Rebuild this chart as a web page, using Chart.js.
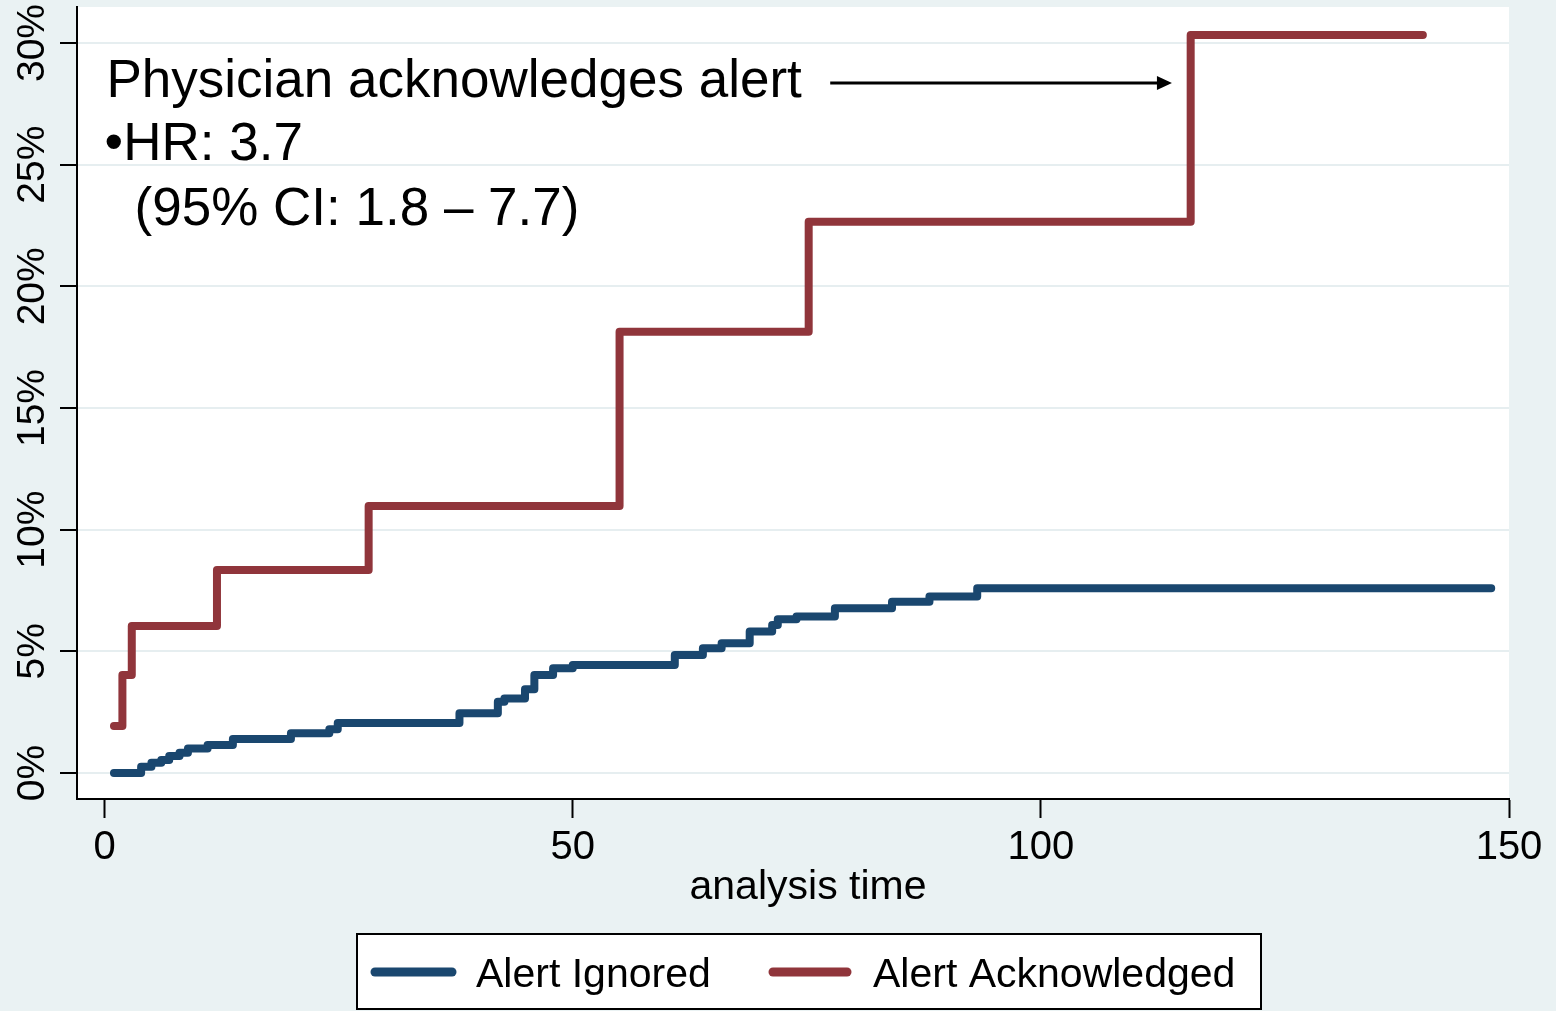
<!DOCTYPE html>
<html>
<head>
<meta charset="utf-8">
<script src="https://cdn.jsdelivr.net/npm/chart.js@4.4.1/dist/chart.umd.min.js"></script>
<style>
  html, body { margin: 0; padding: 0; background: #EAF2F3; }
  canvas { display: block; }
</style>
</head>
<body>
<canvas id="km-chart" width="1556" height="1011"></canvas>
<script>
// ============================================
// DATA (cumulative failure, percent)
// ============================================
const seriesLabels = ['Alert Ignored', 'Alert Acknowledged'];

const ignoredTimes = [1, 3.9, 5.0, 6.05, 6.9, 8.0, 8.9, 11.0, 13.7, 19.9, 24.0, 24.9,
  37.9, 42.0, 42.7, 44.9, 45.9, 47.9, 50.0,
  60.9, 63.9, 65.9, 68.9, 71.3, 71.9, 73.9, 78.0, 84.1, 88.1, 93.2, 148.1];
const ignoredPct = [0, 0.26, 0.42, 0.53, 0.70, 0.83, 1.01, 1.15, 1.40, 1.63, 1.80, 2.05,
  2.45, 2.93, 3.06, 3.44, 4.03, 4.30, 4.44,
  4.85, 5.13, 5.33, 5.81, 6.08, 6.32, 6.43, 6.77, 7.04, 7.25, 7.59, 7.59];

const ackTimes = [1, 1.9, 2.9, 12.0, 28.2, 55.0, 75.2, 116.0, 140.8];
const ackPct = [1.93, 4.03, 6.04, 8.34, 10.97, 18.13, 22.65, 30.33, 30.33];

const xTicks = [0, 50, 100, 150];
const yTicks = [0, 5, 10, 15, 20, 25, 30];

const xTitle = 'analysis time';
const noteLines = ['Physician acknowledges alert', '\u2022HR: 3.7', '(95% CI: 1.8 \u2013 7.7)'];

// ============================================
// HELPERS
// ============================================
const FONT = '"Liberation Sans", Arial, sans-serif';
Chart.defaults.font.family = FONT;
Chart.defaults.color = '#000';

function toPoints(xs, ys) {
  return xs.map((x, i) => ({ x: x, y: ys[i] }));
}

// backgrounds: outer stata-ish blue, white plot region
const backgroundPlugin = {
  id: 'bg',
  beforeDraw(chart) {
    const { ctx, chartArea: a } = chart;
    ctx.save();
    ctx.fillStyle = '#EAF2F3';
    ctx.fillRect(0, 0, chart.width, chart.height);
    ctx.fillStyle = '#FFFFFF';
    ctx.fillRect(a.left, a.top, a.right - a.left, a.bottom - a.top);
    ctx.restore();
  }
};

// rotated y tick labels, axis title, annotation, legend box
const extrasPlugin = {
  id: 'extras',
  afterDraw(chart) {
    const { ctx } = chart;
    const xs = chart.scales.x;
    const ys = chart.scales.y;

    ctx.save();
    ctx.fillStyle = '#000';

    // y tick labels, vertical
    ctx.font = '39px ' + FONT;
    ctx.textAlign = 'center';
    ctx.textBaseline = 'middle';
    ys.ticks.forEach(t => {
      const py = ys.getPixelForValue(t.value);
      ctx.save();
      ctx.translate(33, py);
      ctx.rotate(-Math.PI / 2);
      ctx.fillText(t.value + '%', 0, 0);
      ctx.restore();
    });

    // x axis title
    ctx.font = '41px ' + FONT;
    ctx.fillText(xTitle, 808, 888);

    // annotation text
    ctx.font = '53px ' + FONT;
    ctx.textAlign = 'left';
    ctx.textBaseline = 'alphabetic';
    ctx.fillText(noteLines[0], xs.getPixelForValue(0.2), ys.getPixelForValue(27.78));
    ctx.fillText(noteLines[1], xs.getPixelForValue(0.0), ys.getPixelForValue(25.2));
    ctx.fillText(noteLines[2], xs.getPixelForValue(3.2), ys.getPixelForValue(22.52));

    // arrow
    const ax0 = xs.getPixelForValue(77.5);
    const ax1 = xs.getPixelForValue(114.0);
    const ay = ys.getPixelForValue(28.36);
    ctx.strokeStyle = '#000';
    ctx.lineWidth = 3;
    ctx.beginPath();
    ctx.moveTo(ax0, ay);
    ctx.lineTo(ax1 - 10, ay);
    ctx.stroke();
    ctx.beginPath();
    ctx.moveTo(ax1, ay);
    ctx.lineTo(ax1 - 15, ay - 7);
    ctx.lineTo(ax1 - 15, ay + 7);
    ctx.closePath();
    ctx.fill();

    // legend
    const box = { left: 357, top: 934, right: 1261, bottom: 1009 };
    ctx.fillStyle = '#FFFFFF';
    ctx.fillRect(box.left, box.top, box.right - box.left, box.bottom - box.top);
    ctx.strokeStyle = '#000';
    ctx.lineWidth = 2;
    ctx.strokeRect(box.left, box.top, box.right - box.left, box.bottom - box.top);

    const items = [
      { x0: 375, x1: 452, tx: 476 },
      { x0: 773, x1: 847, tx: 873 }
    ];
    ctx.font = '41px ' + FONT;
    ctx.textBaseline = 'alphabetic';
    chart.data.datasets.forEach((ds, i) => {
      const it = items[i];
      ctx.strokeStyle = ds.borderColor;
      ctx.lineWidth = 9;
      ctx.lineCap = 'round';
      ctx.beginPath();
      ctx.moveTo(it.x0, 972);
      ctx.lineTo(it.x1, 972);
      ctx.stroke();
      ctx.fillStyle = '#000';
      ctx.fillText(ds.label, it.tx, 987);
    });

    ctx.restore();
  }
};

// ============================================
// CHART
// ============================================
function initChart() {
  const ctx = document.getElementById('km-chart');

  const lineStyle = {
    borderWidth: 8,
    stepped: 'before',
    pointRadius: 0,
    borderCapStyle: 'round',
    borderJoinStyle: 'round',
    fill: false
  };

  new Chart(ctx, {
    type: 'line',
    data: {
      datasets: [
        Object.assign({
          label: seriesLabels[0],
          data: toPoints(ignoredTimes, ignoredPct),
          borderColor: '#1A476F'
        }, lineStyle),
        Object.assign({
          label: seriesLabels[1],
          data: toPoints(ackTimes, ackPct),
          borderColor: '#90353B'
        }, lineStyle)
      ]
    },
    options: {
      responsive: false,
      animation: false,
      layout: { padding: { top: 7, right: 47, left: 0, bottom: 0 } },
      plugins: {
        legend: { display: false },
        tooltip: { enabled: false }
      },
      scales: {
        x: {
          type: 'linear',
          min: -2.95,
          max: 150,
          afterBuildTicks: s => { s.ticks = xTicks.map(v => ({ value: v })); },
          afterFit: s => { s.height = 212; },
          grid: {
            drawOnChartArea: false,
            tickLength: 19,
            tickColor: '#000',
            tickWidth: 2
          },
          border: { color: '#000', width: 2 },
          ticks: {
            color: '#000',
            font: { size: 40 },
            padding: 6,
            maxRotation: 0,
            autoSkip: false
          }
        },
        y: {
          type: 'linear',
          min: -1.07,
          max: 31.48,
          afterBuildTicks: s => { s.ticks = yTicks.map(v => ({ value: v })); },
          afterFit: s => { s.width = 77; },
          grid: {
            color: '#E6EEF0',
            lineWidth: 2,
            tickLength: 17,
            tickColor: '#000',
            tickWidth: 2
          },
          border: { color: '#000', width: 2 },
          ticks: { display: false }
        }
      }
    },
    plugins: [backgroundPlugin, extrasPlugin]
  });
}

initChart();
</script>
</body>
</html>
